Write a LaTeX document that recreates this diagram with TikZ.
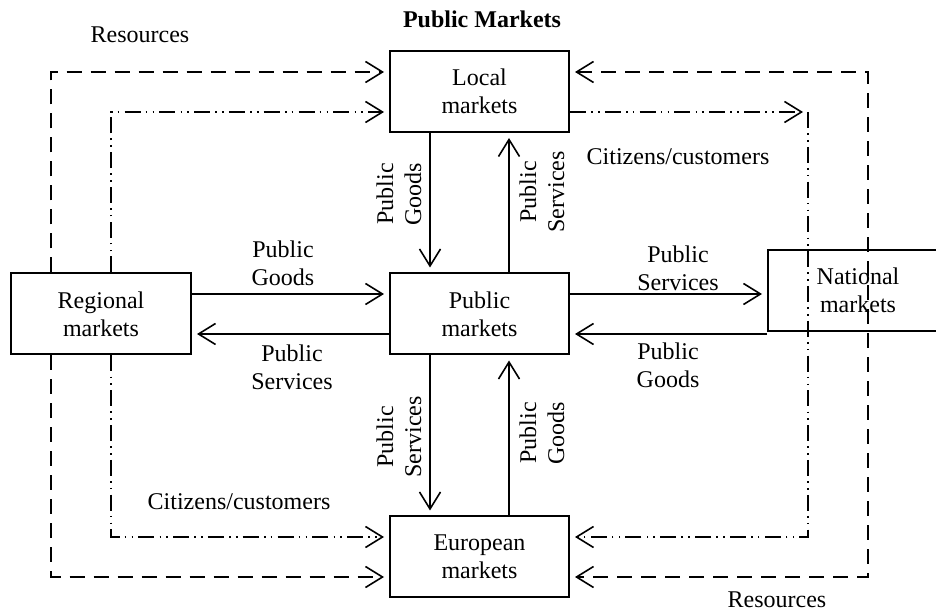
\documentclass[tikz,border=0pt]{standalone}
\usepackage{fontspec}
\setmainfont{Liberation Serif}
\usetikzlibrary{arrows.meta}
\begin{document}
\begin{tikzpicture}[x=0.5pt,y=-0.5pt,
  >={Straight Barb[length=8.5pt,width=10.5pt]},
  box/.style={draw, line width=1pt, minimum width=89.5pt, minimum height=40.5pt,
    inner sep=0pt, align=center, font=\fontsize{12}{14}\selectfont},
  lbl/.style={inner sep=0pt, align=center, font=\fontsize{12}{14}\selectfont},
  flow/.style={line width=0.8pt, ->, shorten >=2.5pt},
  dsh/.style={flow, dash pattern=on 7.5pt off 4.5pt},
  ddot/.style={flow, dash pattern=on 8pt off 2.6pt on 0.8pt off 2.6pt on 0.8pt off 2.6pt}
]
\useasboundingbox (0,0) rectangle (936,613);

% boxes
\node[box] (loc) at (479.5,91.5) {Local\\markets};
\node[box] (pub) at (479.5,314) {Public\\markets};
\node[box] (eur) at (479.5,557) {European\\markets};
\node[box, minimum width=90pt] (reg) at (101,314) {Regional\\markets};
\node[box, minimum width=90pt] (nat) at (858,290.5) {National\\markets};

% corner coordinates of the outer loops
\coordinate (cTLa) at (51,72);
\coordinate (cTLb) at (111,112);
\coordinate (cBLb) at (111,537);
\coordinate (cBLa) at (51,577);
\coordinate (cTRa) at (868,72);
\coordinate (cTRb) at (808,112);
\coordinate (cBRb) at (808,537);
\coordinate (cBRa) at (868,577);

% left loops
\draw[dsh] (reg.north -| cTLa) -- (cTLa) -- (cTLa -| loc.west);
\draw[dsh] (reg.south -| cBLa) -- (cBLa) -- (cBLa -| eur.west);
\draw[ddot] (reg.north -| cTLb) -- (cTLb) -- (cTLb -| loc.west);
\draw[ddot] (reg.south -| cBLb) -- (cBLb) -- (cBLb -| eur.west);

% right loops
\draw[dsh, <->, shorten <=2.5pt] (cTRa -| loc.east) -- (cTRa) -- (cBRa) -- (cBRa -| eur.east);
\draw[ddot] (cTRb -| loc.east) -- (cTRb);
\draw[ddot] (cTRb) -- (cBRb) -- (cBRb -| eur.east);

% solid flows
\draw[flow] ([yshift=10pt]reg.east) -- ([yshift=10pt]reg.east -| pub.west);
\draw[flow] ([yshift=-10pt]pub.west) -- ([yshift=-10pt]pub.west -| reg.east);
\draw[flow] ([yshift=10pt]pub.east) -- ([yshift=10pt]pub.east -| nat.west);
\draw[flow] ([yshift=-10pt]pub.east -| nat.west) -- ([yshift=-10pt]pub.east);
\draw[flow] ([xshift=-24.75pt]loc.south) -- ([xshift=-24.75pt]pub.north);
\draw[flow] ([xshift=14.75pt]pub.north) -- ([xshift=14.75pt]loc.south);
\draw[flow] ([xshift=-24.75pt]pub.south) -- ([xshift=-24.75pt]eur.north);
\draw[flow] ([xshift=14.75pt]eur.north) -- ([xshift=14.75pt]pub.south);

% texts
\node[lbl, font=\bfseries\fontsize{12}{14}\selectfont, anchor=base] (title) at (482,28) {Public Markets};
\node[lbl, anchor=base] (resA) at (140,43) {Resources};
\node[lbl, anchor=base] (resB) at (777,608) {Resources};
\node[lbl, anchor=base] (citA) at (678,165) {Citizens/customers};
\node[lbl, anchor=base] (citB) at (239,510) {Citizens/customers};

\node[lbl] (l1) at (283,263) {Public\\Goods};
\node[lbl] (l2) at (292,367) {Public\\Services};
\node[lbl] (l3) at (678,268) {Public\\Services};
\node[lbl] (l4) at (668,365) {Public\\Goods};
\node[lbl, rotate=90] (l5) at (399,194) {Public\\Goods};
\node[lbl, rotate=90] (l6) at (542,192) {Public\\Services};
\node[lbl, rotate=90] (l7) at (399,437) {Public\\Services};
\node[lbl, rotate=90] (l8) at (542,433) {Public\\Goods};
\end{tikzpicture}
\end{document}
